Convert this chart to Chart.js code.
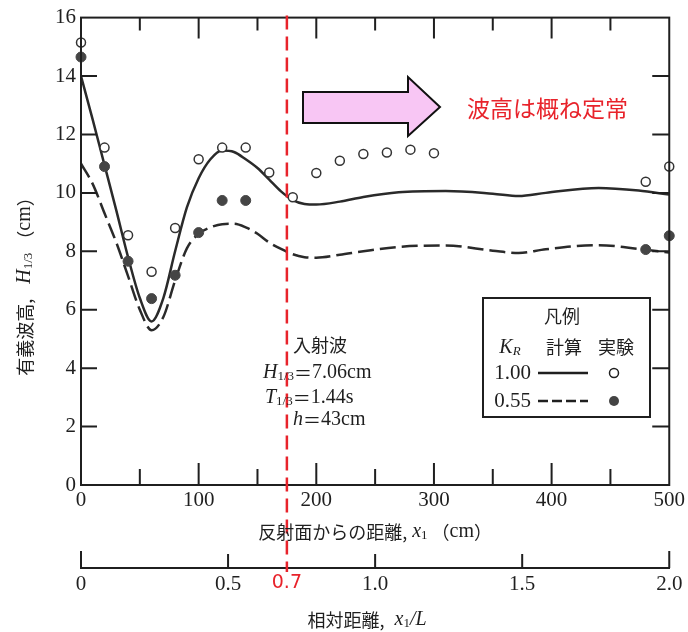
<!DOCTYPE html>
<html>
<head>
<meta charset="utf-8">
<script src="https://cdn.jsdelivr.net/npm/chart.js@4.4.1/dist/chart.umd.min.js"></script>
<style>
  html, body { margin: 0; padding: 0; background: #fff; }
</style>
</head>
<body>
<canvas id="chart" width="688" height="632"></canvas>
<script>
// experiment (open = K_R 1.00, filled = K_R 0.55)
const expX = [0, 20, 40, 60, 80, 100, 120, 140, 160, 180, 200, 220, 240, 260, 280, 300, 480, 500];
const exp100 = [15.15, 11.55, 8.55, 7.3, 8.8, 11.15, 11.55, 11.55, 10.7, 9.85, 10.68, 11.1, 11.33, 11.38, 11.48, 11.36, 10.38, 10.9];
const exp55X = [0, 20, 40, 60, 80, 100, 120, 140, 480, 500];
const exp55 = [14.65, 10.9, 7.66, 6.38, 7.18, 8.64, 9.74, 9.74, 8.06, 8.53];

// calculation curves
const calcX = [0, 10, 20, 30, 40, 50, 60, 70, 80, 90, 100, 110, 120, 130, 140, 150, 160, 170, 180, 190, 200, 220, 240, 270, 310, 350, 372, 395, 440, 474, 500];
const calc100 = [14.0, 12.5, 10.95, 9.4, 7.8, 6.4, 5.6, 6.4, 8.0, 9.5, 10.5, 11.15, 11.45, 11.4, 11.15, 10.85, 10.45, 10.05, 9.75, 9.62, 9.6, 9.7, 9.86, 10.02, 10.06, 9.97, 9.89, 10.0, 10.17, 10.08, 9.94];
const calc55 = [11.0, 10.3, 9.3, 8.3, 7.15, 6.0, 5.3, 5.75, 7.0, 8.1, 8.6, 8.82, 8.93, 8.94, 8.82, 8.6, 8.3, 8.08, 7.9, 7.8, 7.78, 7.88, 8.0, 8.15, 8.2, 8.02, 7.94, 8.07, 8.21, 8.08, 7.96];

// tick labels
const xTicks = [0, 100, 200, 300, 400, 500];
const yTicks = [0, 2, 4, 6, 8, 10, 12, 14, 16];
const relTicks = [0, 0.5, 1.0, 1.5, 2.0];
const relMark = 0.7;

const SERIF = '"Liberation Serif", "DejaVu Serif", serif';
const JP = '"Noto Sans CJK JP", sans-serif';
const INK = '#1f1f1f';
const RED = '#e8232b';

const pts = (xs, ys) => xs.map((x, i) => ({ x: x, y: ys[i] }));

// draw a line of mixed-font text: runs = [text, font, dy]
function drawRuns(ctx, runs, x, y, align) {
  let w = 0;
  runs.forEach(r => { ctx.font = r[1]; w += ctx.measureText(r[0]).width; });
  let cx = align === 'center' ? x - w / 2 : (align === 'right' ? x - w : x);
  ctx.textAlign = 'left';
  ctx.textBaseline = 'middle';
  runs.forEach(r => {
    ctx.font = r[1];
    ctx.fillText(r[0], cx, y + (r[2] || 0));
    cx += ctx.measureText(r[0]).width;
  });
}

const decor = {
  id: 'decor',
  afterDraw(chart) {
    const ctx = chart.ctx;
    const { left, right, top, bottom } = chart.chartArea;
    const sx = chart.scales.x, sy = chart.scales.y, s2 = chart.scales.x2;
    ctx.save();
    ctx.strokeStyle = INK;
    ctx.fillStyle = INK;

    // frame
    ctx.lineWidth = 2;
    ctx.strokeRect(left, top, right - left, bottom - top);

    // inward ticks
    ctx.beginPath();
    for (let v = 50; v < 500; v += 50) {
      const px = sx.getPixelForValue(v);
      const major = v % 100 === 0;
      ctx.moveTo(px, bottom); ctx.lineTo(px, bottom - (major ? 22 : 16));
      ctx.moveTo(px, top); ctx.lineTo(px, top + (major ? 21 : 13));
    }
    for (let v = 2; v < 16; v += 2) {
      const py = sy.getPixelForValue(v);
      ctx.moveTo(left, py); ctx.lineTo(left + 16, py);
      ctx.moveTo(right, py); ctx.lineTo(right - 17, py);
    }
    relTicks.forEach(v => {
      const px = s2.getPixelForValue(v);
      ctx.moveTo(px, s2.top); ctx.lineTo(px, s2.top - (v === 0 || v === 2 ? 17 : 14));
    });
    ctx.stroke();

    // incident position line
    const rx = s2.getPixelForValue(relMark);
    ctx.save();
    ctx.strokeStyle = RED;
    ctx.lineWidth = 2.5;
    ctx.setLineDash([14, 7]);
    ctx.beginPath();
    ctx.moveTo(rx, top - 2);
    ctx.lineTo(rx, s2.top + 4);
    ctx.stroke();
    ctx.restore();

    // arrow
    ctx.beginPath();
    ctx.moveTo(303, 92); ctx.lineTo(408, 92); ctx.lineTo(408, 77);
    ctx.lineTo(440, 107); ctx.lineTo(408, 136); ctx.lineTo(408, 123);
    ctx.lineTo(303, 123); ctx.closePath();
    ctx.fillStyle = '#f8c6f4';
    ctx.fill();
    ctx.lineWidth = 2;
    ctx.strokeStyle = '#111';
    ctx.stroke();

    ctx.fillStyle = RED;
    drawRuns(ctx, [['波高は概ね定常', '23px ' + JP]], 467, 108, 'left');

    // incident wave note
    ctx.fillStyle = INK;
    drawRuns(ctx, [['入射波', '18px ' + JP]], 293, 345, 'left');
    drawRuns(ctx, [['H', 'italic 20px ' + SERIF], ['1/3', '13px ' + SERIF, 4], ['＝', '18px ' + JP], ['7.06cm', '20px ' + SERIF]], 263, 373, 'left');
    drawRuns(ctx, [['T', 'italic 20px ' + SERIF], ['1/3', '13px ' + SERIF, 4], ['＝', '18px ' + JP], ['1.44s', '20px ' + SERIF]], 265, 398, 'left');
    drawRuns(ctx, [['h', 'italic 20px ' + SERIF], ['＝', '18px ' + JP], ['43cm', '20px ' + SERIF]], 293, 420, 'left');

    // legend box
    ctx.lineWidth = 2;
    ctx.strokeStyle = INK;
    ctx.strokeRect(483, 298, 167, 119);
    drawRuns(ctx, [['凡例', '18px ' + JP]], 562, 316, 'center');
    drawRuns(ctx, [['K', 'italic 20px ' + SERIF], ['R', 'italic 13px ' + SERIF, 4]], 510, 348, 'center');
    drawRuns(ctx, [['計算', '18px ' + JP]], 564, 347, 'center');
    drawRuns(ctx, [['実験', '18px ' + JP]], 616, 347, 'center');
    drawRuns(ctx, [['1.00', '21px ' + SERIF]], 531, 373, 'right');
    drawRuns(ctx, [['0.55', '21px ' + SERIF]], 531, 401, 'right');
    ctx.lineWidth = 2.5;
    ctx.beginPath(); ctx.moveTo(538, 373); ctx.lineTo(588, 373); ctx.stroke();
    ctx.setLineDash([10, 4]);
    ctx.beginPath(); ctx.moveTo(538, 401); ctx.lineTo(588, 401); ctx.stroke();
    ctx.setLineDash([]);
    ctx.lineWidth = 1.5;
    ctx.fillStyle = '#fff';
    ctx.beginPath(); ctx.arc(614, 373, 4.5, 0, Math.PI * 2); ctx.fill(); ctx.stroke();
    ctx.fillStyle = '#444';
    ctx.beginPath(); ctx.arc(614, 401, 5, 0, Math.PI * 2); ctx.fill();

    // axis titles
    ctx.fillStyle = INK;
    const cx = (left + right) / 2;
    drawRuns(ctx, [['反射面からの距離,', '18px ' + JP], [' x', 'italic 20px ' + SERIF], ['1', '13px ' + SERIF, 4], [' （', '18px ' + JP], ['cm', '20px ' + SERIF], ['）', '18px ' + JP]], cx, 532, 'center');
    drawRuns(ctx, [['相対距離,', '18px ' + JP], ['  x', 'italic 20px ' + SERIF], ['1', '13px ' + SERIF, 4], ['/L', 'italic 20px ' + SERIF]], cx - 8, 620, 'center');

    ctx.save();
    ctx.translate(25, 282);
    ctx.rotate(-Math.PI / 2);
    drawRuns(ctx, [['有義波高,', '18px ' + JP], ['   H', 'italic 20px ' + SERIF], ['1/3', '13px ' + SERIF, 4], [' （', '18px ' + JP], ['cm', '20px ' + SERIF], ['）', '18px ' + JP]], 0, 0, 'center');
    ctx.restore();

    ctx.restore();
  }
};

new Chart(document.getElementById('chart'), {
  type: 'scatter',
  data: {
    datasets: [
      {
        label: '実験 1.00',
        data: pts(expX, exp100),
        showLine: false,
        clip: false,
        pointRadius: 4.5,
        pointBackgroundColor: '#fff',
        pointBorderColor: '#333',
        pointBorderWidth: 1.5
      },
      {
        label: '実験 0.55',
        data: pts(exp55X, exp55),
        showLine: false,
        clip: false,
        pointRadius: 5,
        pointBackgroundColor: '#454545',
        pointBorderColor: '#454545',
        pointBorderWidth: 1
      },
      {
        label: '計算 1.00',
        data: pts(calcX, calc100),
        showLine: true,
        pointRadius: 0,
        borderColor: '#2a2a2a',
        borderWidth: 2.5,
        cubicInterpolationMode: 'monotone'
      },
      {
        label: '計算 0.55',
        data: pts(calcX, calc55),
        showLine: true,
        pointRadius: 0,
        borderColor: '#2a2a2a',
        borderWidth: 2.5,
        borderDash: [16, 6],
        cubicInterpolationMode: 'monotone'
      }
    ]
  },
  options: {
    responsive: false,
    animation: false,
    layout: { padding: { top: 13, right: 16, left: 0, bottom: 0 } },
    plugins: { legend: { display: false }, tooltip: { enabled: false } },
    scales: {
      x: {
        type: 'linear', min: 0, max: 500, weight: 0,
        afterBuildTicks: s => { s.ticks = xTicks.map(v => ({ value: v })); },
        afterFit: s => { s.height = 83; },
        ticks: { color: INK, font: { family: SERIF, size: 21 }, padding: 3, autoSkip: false, maxRotation: 0 },
        grid: { display: false, drawTicks: false },
        border: { display: false }
      },
      x2: {
        type: 'linear', position: 'bottom', min: 0, max: 2, weight: 1,
        afterBuildTicks: s => { s.ticks = relTicks.concat([relMark]).sort((a, b) => a - b).map(v => ({ value: v })); },
        afterFit: s => { s.height = 64; },
        ticks: {
          padding: 4, autoSkip: false, maxRotation: 0,
          callback: v => (v === 0 ? '0' : v.toFixed(1)),
          color: c => (c.tick && c.tick.value === relMark ? RED : INK),
          font: c => (c.tick && c.tick.value === relMark
            ? { family: '"DejaVu Sans", sans-serif', size: 19 }
            : { family: SERIF, size: 21 })
        },
        grid: { display: false, drawTicks: false },
        border: { display: true, color: INK, width: 2 }
      },
      y: {
        type: 'linear', min: 0, max: 16,
        afterBuildTicks: s => { s.ticks = yTicks.map(v => ({ value: v })); },
        afterFit: s => { s.width = 81; },
        ticks: { color: INK, font: { family: SERIF, size: 21 }, padding: 5, autoSkip: false },
        grid: { display: false, drawTicks: false },
        border: { display: false }
      }
    }
  },
  plugins: [decor]
});
</script>
</body>
</html>
